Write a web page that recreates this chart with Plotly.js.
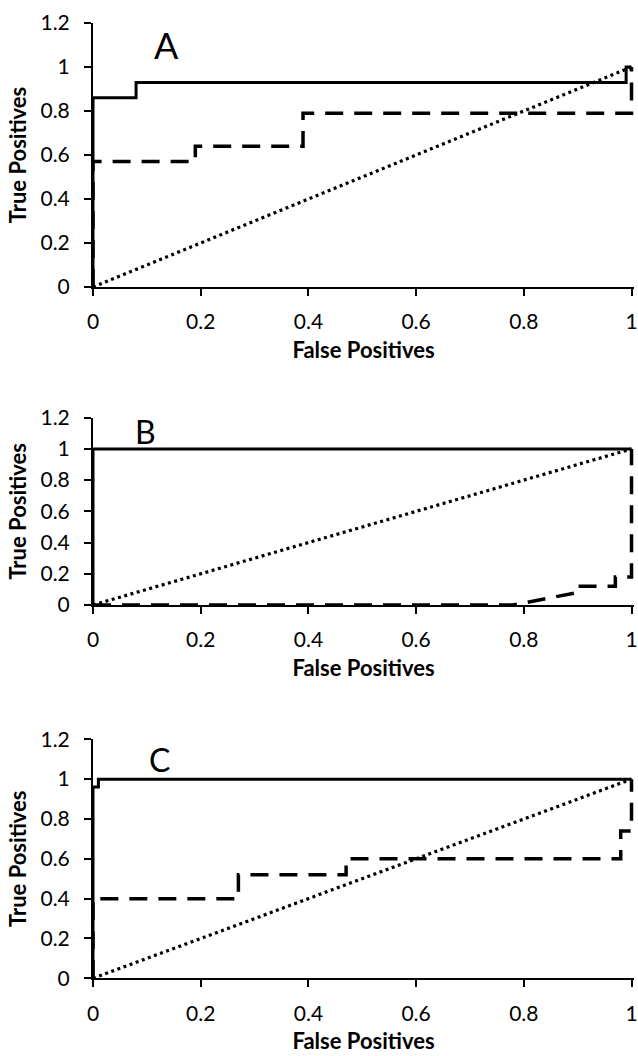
<!DOCTYPE html>
<html>
<head>
<meta charset="utf-8">
<script src="https://cdn.plot.ly/plotly-3.0.1.min.js"></script>
<style>html,body{margin:0;padding:0;background:#fff;}#chart{width:638px;height:1056px;}</style>
</head>
<body>
<div id="chart"></div>
<script>
// ---- Data ----
const panelLabels = ["A", "B", "C"];
const xTitle = "False Positives";
const yTitle = "True Positives";
const xTickVals = [0, 0.2, 0.4, 0.6, 0.8, 1];
const xTickText = ["0", "0.2", "0.4", "0.6", "0.8", "1"];
const yTickVals = [0, 0.2, 0.4, 0.6, 0.8, 1, 1.2];
const yTickText = ["0", "0.2", "0.4", "0.6", "0.8", "1", "1.2"];

const diagX = [0, 1];
const diagY = [0, 1];

const aSolidX = [0, 0, 0.08, 0.08, 0.99, 0.99, 1];
const aSolidY = [0, 0.86, 0.86, 0.93, 0.93, 1, 1];
const aDashX = [0, 0, 0.19, 0.19, 0.39, 0.39, 1, 1];
const aDashY = [0, 0.57, 0.57, 0.64, 0.64, 0.79, 0.79, 1];

const bSolidX = [0, 0, 1];
const bSolidY = [0, 1, 1];
const bDashX = [0, 0.78, 0.90, 0.90, 0.97, 0.97, 1, 1];
const bDashY = [0, 0, 0.08, 0.12, 0.12, 0.18, 0.18, 1];

const cSolidX = [0, 0, 0.01, 0.01, 1];
const cSolidY = [0, 0.96, 0.96, 1, 1];
const cDashX = [0, 0, 0.27, 0.27, 0.47, 0.47, 0.98, 0.98, 1, 1];
const cDashY = [0, 0.40, 0.40, 0.52, 0.52, 0.60, 0.60, 0.74, 0.74, 1];

// ---- Styles ----
const FONT = "Lato, 'Open Sans', sans-serif";
const solidLine = {color: "#000", width: 3};
const dashLine = {color: "#000", width: 3.5, dash: "18px,11px"};
const dotLine = {color: "#000", width: 3.2, dash: "3px,3.5px"};

const panels = [
  {sx: aSolidX, sy: aSolidY, dx: aDashX, dy: aDashY},
  {sx: bSolidX, sy: bSolidY, dx: bDashX, dy: bDashY},
  {sx: cSolidX, sy: cSolidY, dx: cDashX, dy: cDashY}
];

const H = 1056, W = 638;
// pixel layout (bottom, top) of each plot area
const yPix = [[287, 23], [605, 417.7], [978.3, 739.3]];
const labelPos = [[0.137, 1.10], [0.098, 1.11], [0.123, 1.097]];
const labelSize = [36, 32, 32];
const X_RANGE = [0, 1.005];
const xDomain = [93 / W, (93 + 538.5 * 1.005) / W];

const traces = [];
const layout = {
  width: W, height: H,
  margin: {l: 0, r: 0, t: 0, b: 0},
  paper_bgcolor: "#fff", plot_bgcolor: "#fff",
  showlegend: false,
  font: {family: FONT, color: "#000", size: 21},
  annotations: []
};

panels.forEach((p, i) => {
  const n = i === 0 ? "" : String(i + 1);
  const xa = "x" + n, ya = "y" + n;
  traces.push({x: diagX, y: diagY, xaxis: xa, yaxis: ya, mode: "lines", line: dotLine, hoverinfo: "skip"});
  traces.push({x: p.dx, y: p.dy, xaxis: xa, yaxis: ya, mode: "lines", line: dashLine, hoverinfo: "skip"});
  traces.push({x: p.sx, y: p.sy, xaxis: xa, yaxis: ya, mode: "lines", line: solidLine, hoverinfo: "skip"});

  layout["xaxis" + n] = {
    domain: xDomain, anchor: ya, range: X_RANGE,
    tickmode: "array", tickvals: xTickVals, ticktext: xTickText,
    showline: true, linecolor: "#000", linewidth: 2,
    ticks: "outside", ticklen: 7, tickwidth: 2, tickcolor: "#000",
    ticklabelstandoff: 8,
    showgrid: false, zeroline: false,
    tickfont: {family: FONT, size: 21, color: "#000"},
    title: {text: "<b>" + xTitle + "</b>", font: {family: FONT, size: 22, color: "#000"}, standoff: 10}
  };
  layout["yaxis" + n] = {
    domain: [1 - yPix[i][0] / H, 1 - yPix[i][1] / H], anchor: xa, range: [0, 1.2],
    tickmode: "array", tickvals: yTickVals, ticktext: yTickText,
    showline: true, linecolor: "#000", linewidth: 2,
    ticks: "outside", ticklen: 7, tickwidth: 2, tickcolor: "#000",
    ticklabelstandoff: 10,
    showgrid: false, zeroline: false,
    tickfont: {family: FONT, size: 21, color: "#000"},
    title: {text: "<b>" + yTitle + "</b>", font: {family: FONT, size: 22, color: "#000"}, standoff: 8}
  };
  layout.annotations.push({
    xref: xa, yref: ya, x: labelPos[i][0], y: labelPos[i][1],
    text: panelLabels[i], showarrow: false,
    font: {family: FONT, size: labelSize[i], color: "#000"}
  });
});

Plotly.newPlot("chart", traces, layout, {staticPlot: true, displayModeBar: false});
</script>
</body>
</html>
